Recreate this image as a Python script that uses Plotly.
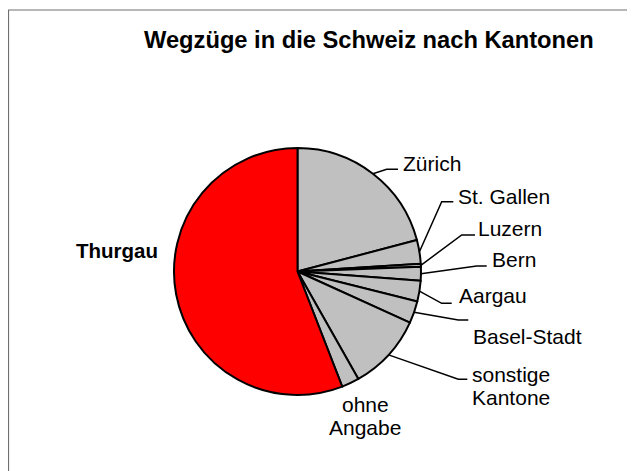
import math
import plotly.graph_objects as go

# ---- data ----
cantons = ["Zürich", "St. Gallen", "Luzern", "Bern", "Aargau", "Basel-Stadt",
           "sonstige Kantone", "ohne Angabe", "Thurgau"]
values = [209, 31, 4, 18, 27, 29, 100, 23, 559]
label_lines = [["Zürich"], ["St. Gallen"], ["Luzern"], ["Bern"], ["Aargau"], ["Basel-Stadt"],
               ["sonstige", "Kantone"], ["ohne", "Angabe"], ["<b>Thurgau</b>"]]
title_text = "Wegzüge in die Schweiz nach Kantonen"

# ---- layout / style ----
PAGE_W, PAGE_H = 635, 471
OFF = 8  # browser body margin
W, H = PAGE_W - OFF, PAGE_H - OFF
CX, CY, R = 297.5 - OFF, 271.5 - OFF, 123.5
FONT = "Liberation Sans, Arial, sans-serif"
LINE_H = 23.5
colors = ["#C0C0C0"] * 8 + ["#FF0000"]

# label positions in page pixels (x, y, xanchor) and leader elbow/end points
label_pos = [
    (400.5, 163, "left"),
    (456, 196.5, "left"),
    (476, 228, "left"),
    (490, 259.5, "left"),
    (457, 295, "left"),
    (470.5, 336, "left"),
    (469.5, 386, "left"),
    (365, 416, "center"),
    (74, 250, "left"),
]
leaders = [
    ((386.7, 169.3), (398, 169.3)),
    ((441.7, 201.7), (453.3, 201.7)),
    ((461.7, 235), (475, 235)),
    ((476.7, 266), (486.7, 266)),
    ((441.7, 303.3), (451.7, 303.3)),
    ((458.3, 320), (468.3, 320)),
    ((458.3, 379.3), (467.3, 379.3)),
    None,
    None,
]

fig = go.Figure()
fig.add_trace(go.Pie(
    labels=cantons, values=values, sort=False, direction="clockwise", rotation=0,
    marker=dict(colors=colors, line=dict(color="black", width=2)),
    textinfo="none", hoverinfo="label+value", showlegend=False,
    domain=dict(x=[(CX - R) / W, (CX + R) / W],
                y=[(H - CY - R) / H, (H - CY + R) / H]),
))
fig.add_trace(go.Scatter(x=[], y=[], showlegend=False, hoverinfo="skip"))

shapes = []
annotations = []
total = sum(values)
cum = 0
for i, v in enumerate(values):
    mid = (cum + v / 2) / total * 2 * math.pi
    cum += v
    sx = CX + R * math.sin(mid)
    sy = CY - R * math.cos(mid)
    if leaders[i] is not None:
        (ex, ey), (fx, fy) = leaders[i]
        ex, ey, fx, fy = ex - OFF, ey - OFF, fx - OFF, fy - OFF
        shapes.append(dict(type="path", xref="x", yref="y",
                           path=f"M{sx},{sy} L{ex},{ey} L{fx},{fy}",
                           line=dict(color="black", width=1.5), layer="above"))
    lx, ly, anc = label_pos[i]
    lines = label_lines[i]
    n = len(lines)
    for k, line in enumerate(lines):
        yy = ly + (k - (n - 1) / 2) * LINE_H
        annotations.append(dict(x=lx - OFF, y=yy - OFF, xref="x", yref="y", text=line,
                                showarrow=False, xanchor=anc, yanchor="middle", align=anc,
                                font=dict(family=FONT, size=21 if i < 8 else 20.5,
                                          color="black")))

annotations.append(dict(x=368.7 - OFF, y=40 - OFF, xref="x", yref="y", text=f"<b>{title_text}</b>",
                        showarrow=False, xanchor="center", yanchor="middle",
                        font=dict(family=FONT, size=23.7, color="black")))

# frame
shapes.append(dict(type="path", xref="x", yref="y",
                   path=f"M{8.5 - OFF},{H + 5} L{8.5 - OFF},{10 - OFF} L{W + 5},{10 - OFF}",
                   line=dict(color="#707070", width=1.2), layer="above"))

fig.update_layout(
    width=W, height=H, margin=dict(l=0, r=0, t=0, b=0),
    paper_bgcolor="white", plot_bgcolor="white",
    xaxis=dict(range=[0, W], visible=False, domain=[0, 1], fixedrange=True),
    yaxis=dict(range=[H, 0], visible=False, domain=[0, 1], fixedrange=True),
    shapes=shapes, annotations=annotations,
)
fig.write_html("out.html")
